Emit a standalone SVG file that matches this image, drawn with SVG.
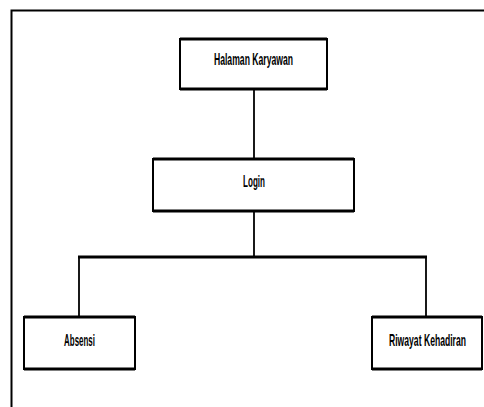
<svg xmlns="http://www.w3.org/2000/svg" width="484" height="407" viewBox="0 0 484 407">
<style>
.box{fill:#fff;stroke:#000;stroke-width:2}
.edge{stroke:#000;stroke-width:3;fill:none}
.conn{stroke:#000;stroke-width:1.8;fill:none}
.lbl{font-family:"Liberation Sans",Arial,sans-serif;font-weight:bold;font-size:16px;fill:#000;text-anchor:middle}
</style>
<rect width="484" height="407" fill="#fff"/>
<path d="M11.5,407 V10.5 H484" fill="none" stroke="#000" stroke-width="2"/>
<g id="connectors">
<path class="conn" d="M254,89 V159"/>
<path class="conn" d="M254,211 V257"/>
<path class="edge" d="M78,257 H427"/>
<path class="conn" d="M79,257 V317"/>
<path class="conn" d="M426,257 V317"/>
</g>
<g id="halaman-karyawan">
<rect class="box" x="180" y="39" width="147" height="50"/>
<path class="edge" d="M180,39 H327 M180,89 H327"/>
<text class="lbl" transform="translate(253.5,65) scale(0.55,1)" textLength="144" lengthAdjust="spacingAndGlyphs">Halaman Karyawan</text>
</g>
<g id="login">
<rect class="box" x="153" y="159" width="201" height="52"/>
<path class="edge" d="M153,159 H354 M153,211 H354"/>
<text class="lbl" transform="translate(254,187) scale(0.55,1)" textLength="40" lengthAdjust="spacingAndGlyphs">Login</text>
</g>
<g id="absensi">
<rect class="box" x="24" y="317" width="111" height="52"/>
<path class="edge" d="M24,317 H135 M24,369 H135"/>
<text class="lbl" transform="translate(79.5,346) scale(0.55,1)" textLength="56" lengthAdjust="spacingAndGlyphs">Absensi</text>
</g>
<g id="riwayat-kehadiran">
<rect class="box" x="372" y="317" width="110" height="52"/>
<path class="edge" d="M372,317 H482 M372,369 H482"/>
<text class="lbl" transform="translate(427.5,346) scale(0.55,1)" textLength="140" lengthAdjust="spacingAndGlyphs">Riwayat Kehadiran</text>
</g>
</svg>
